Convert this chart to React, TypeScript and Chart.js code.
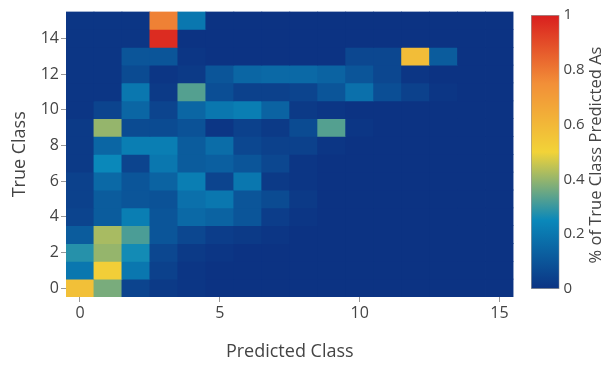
import React, { useEffect, useRef } from 'react';
import { Chart, registerables } from 'chart.js';

Chart.register(...registerables);

// ---- data ----
const CLASSES = [0, 1, 2, 3, 4, 5, 6, 7, 8, 9, 10, 11, 12, 13, 14, 15];
const X_TICKS = [0, 5, 10, 15];
const Y_TICKS = [0, 2, 4, 6, 8, 10, 12, 14];
const CB_TICKS = [0, 0.2, 0.4, 0.6, 0.8, 1];

// share of true class (row) predicted as class (column)
const ROW_0 = [0.57, 0.37, 0.05, 0.02, 0.01, 0, 0, 0, 0, 0, 0, 0, 0, 0, 0, 0];
const ROW_1 = [0.2, 0.52, 0.2, 0.04, 0.01, 0, 0, 0, 0, 0, 0, 0, 0, 0, 0, 0];
const ROW_2 = [0.28, 0.4, 0.26, 0.06, 0.02, 0.01, 0, 0, 0, 0, 0, 0, 0, 0, 0, 0];
const ROW_3 = [0.12, 0.42, 0.32, 0.1, 0.06, 0.03, 0.02, 0.01, 0, 0, 0, 0, 0, 0, 0, 0];
const ROW_4 = [0.05, 0.12, 0.22, 0.1, 0.16, 0.14, 0.1, 0.03, 0.01, 0, 0, 0, 0, 0, 0, 0];
const ROW_5 = [0.04, 0.12, 0.1, 0.09, 0.18, 0.2, 0.1, 0.07, 0.02, 0, 0, 0, 0, 0, 0, 0];
const ROW_6 = [0.04, 0.16, 0.1, 0.14, 0.22, 0.05, 0.2, 0.02, 0.01, 0, 0, 0, 0, 0, 0, 0];
const ROW_7 = [0.02, 0.25, 0.05, 0.2, 0.12, 0.13, 0.1, 0.06, 0.01, 0, 0, 0, 0, 0, 0, 0];
const ROW_8 = [0.02, 0.15, 0.22, 0.22, 0.12, 0.17, 0.06, 0.04, 0.04, 0.01, 0, 0, 0, 0, 0, 0];
const ROW_9 = [0.02, 0.4, 0.07, 0.07, 0.09, 0.01, 0.04, 0.02, 0.07, 0.33, 0.01, 0, 0, 0, 0, 0];
const ROW_10 = [0.01, 0.05, 0.15, 0.05, 0.15, 0.2, 0.22, 0.14, 0.02, 0.01, 0, 0, 0, 0, 0, 0];
const ROW_11 = [0.01, 0.01, 0.2, 0.02, 0.33, 0.08, 0.04, 0.04, 0.05, 0.1, 0.18, 0.08, 0.04, 0.01, 0, 0];
const ROW_12 = [0.01, 0.01, 0.07, 0.01, 0.02, 0.1, 0.15, 0.16, 0.16, 0.14, 0.1, 0.06, 0.01, 0, 0, 0];
const ROW_13 = [0.01, 0.01, 0.1, 0.1, 0.01, 0, 0, 0, 0, 0, 0.06, 0.06, 0.58, 0.12, 0, 0];
const ROW_14 = [0.01, 0.01, 0.01, 0.97, 0, 0, 0, 0, 0, 0, 0, 0, 0, 0, 0, 0];
const ROW_15 = [0.01, 0.01, 0.01, 0.78, 0.2, 0, 0, 0, 0, 0, 0, 0, 0, 0, 0, 0];

const ROWS = [
  ROW_0, ROW_1, ROW_2, ROW_3, ROW_4, ROW_5, ROW_6, ROW_7,
  ROW_8, ROW_9, ROW_10, ROW_11, ROW_12, ROW_13, ROW_14, ROW_15,
];

// Portland colour scale
const PORTLAND: [number, [number, number, number]][] = [
  [0, [12, 51, 131]],
  [0.25, [10, 136, 186]],
  [0.5, [242, 211, 56]],
  [0.75, [242, 143, 56]],
  [1, [217, 30, 30]],
];

const rgb = (c: number[]) => `rgb(${Math.round(c[0])},${Math.round(c[1])},${Math.round(c[2])})`;

function colorFor(v: number): string {
  const t = Math.max(0, Math.min(1, v));
  for (let i = 1; i < PORTLAND.length; i++) {
    const [s1, c1] = PORTLAND[i];
    const [s0, c0] = PORTLAND[i - 1];
    if (t <= s1) {
      const f = (t - s0) / (s1 - s0);
      return rgb([0, 1, 2].map((k) => c0[k] + (c1[k] - c0[k]) * f));
    }
  }
  return rgb(PORTLAND[PORTLAND.length - 1][1]);
}

const FONT = "'Open Sans', sans-serif";
const TEXT = '#444';

export default function App() {
  const mainRef = useRef<HTMLCanvasElement>(null);
  const barRef = useRef<HTMLCanvasElement>(null);

  useEffect(() => {
    const points: { x: number; y: [number, number]; v: number }[] = [];
    ROWS.forEach((row, r) =>
      row.forEach((v, c) => points.push({ x: CLASSES[c], y: [CLASSES[r] - 0.5, CLASSES[r] + 0.5], v }))
    );

    const main = new Chart(mainRef.current!, {
      type: 'bar',
      data: {
        datasets: [
          {
            data: points as any,
            backgroundColor: points.map((p) => colorFor(p.v)),
            borderWidth: 0,
            barPercentage: 1,
            categoryPercentage: 1,
            inflateAmount: 0.4,
          } as any,
        ],
      },
      options: {
        animation: false,
        responsive: false,
        events: [],
        layout: { padding: { top: 7, right: 6.5, left: 0, bottom: 0 } },
        plugins: { legend: { display: false }, tooltip: { enabled: false } },
        scales: {
          x: {
            type: 'linear',
            min: -0.5,
            max: 15.5,
            offset: false,
            afterBuildTicks: (s: any) => {
              s.ticks = X_TICKS.map((value) => ({ value }));
            },
            afterFit: (s: any) => {
              s.height = 73;
            },
            grid: { offset: false, drawOnChartArea: false, tickLength: 5, color: '#999' },
            border: { display: false },
            ticks: { font: { family: FONT, size: 16 }, color: TEXT, padding: 2, maxRotation: 0 },
            title: {
              display: true,
              text: 'Predicted Class',
              font: { family: FONT, size: 18 },
              color: TEXT,
              padding: { top: 0, bottom: 7 },
            },
          },
          y: {
            type: 'linear',
            min: -0.5,
            max: 15.5,
            offset: false,
            afterBuildTicks: (s: any) => {
              s.ticks = Y_TICKS.map((value) => ({ value }));
            },
            afterFit: (s: any) => {
              s.width = 66;
            },
            grid: { offset: false, drawOnChartArea: false, tickLength: 5, color: '#999' },
            border: { display: false },
            ticks: { font: { family: FONT, size: 16 }, color: TEXT, padding: 2 },
            title: {
              display: true,
              text: 'True Class',
              font: { family: FONT, size: 18 },
              color: TEXT,
              padding: { top: 9, bottom: 0 },
            },
          },
        },
      },
    });

    const cbTitle = {
      id: 'cbTitle',
      afterDraw(chart: any) {
        const { ctx } = chart;
        const yScale = chart.scales.y;
        ctx.save();
        ctx.translate(76, (yScale.top + yScale.bottom) / 2 + 3);
        ctx.rotate(-Math.PI / 2);
        ctx.font = `16.5px ${FONT}`;
        ctx.fillStyle = TEXT;
        ctx.textAlign = 'center';
        ctx.textBaseline = 'middle';
        ctx.fillText('% of True Class Predicted As', 0, 0);
        ctx.restore();
      },
    };

    const bar = new Chart(barRef.current!, {
      type: 'bar',
      data: {
        labels: ['scale'],
        datasets: [
          {
            data: [[CB_TICKS[0], CB_TICKS[CB_TICKS.length - 1]]] as any,
            backgroundColor: (ctx: any) => {
              const chart = ctx.chart;
              const area = chart.chartArea;
              const fallback = rgb(PORTLAND[0][1]);
              if (!area) return fallback;
              const y0 = area.bottom;
              const y1 = area.top;
              if (!Number.isFinite(y0) || !Number.isFinite(y1) || y0 === y1) return fallback;
              const g = chart.ctx.createLinearGradient(0, y0, 0, y1);
              PORTLAND.forEach(([s, c]) => g.addColorStop(s, rgb(c)));
              return g;
            },
            borderColor: '#999',
            borderWidth: 1,
            borderSkipped: false,
            barPercentage: 1,
            categoryPercentage: 1,
          } as any,
        ],
      },
      options: {
        animation: false,
        responsive: false,
        events: [],
        layout: { padding: { top: 15, right: 0, left: 11, bottom: 81 } },
        plugins: { legend: { display: false }, tooltip: { enabled: false } },
        scales: {
          x: { display: false },
          y: {
            position: 'right',
            min: 0,
            max: 1,
            afterBuildTicks: (s: any) => {
              s.ticks = CB_TICKS.map((value) => ({ value }));
            },
            afterFit: (s: any) => {
              s.width = 50.5;
            },
            grid: { display: false, drawTicks: false },
            border: { display: false },
            ticks: {
              font: { family: FONT, size: 15 },
              color: TEXT,
              padding: 4,
              callback: (v: any) => String(v),
            },
          },
        },
      },
      plugins: [cbTitle],
    });

    return () => {
      main.destroy();
      bar.destroy();
    };
  }, []);

  return (
    <div style={{ position: 'absolute', left: 0, top: 0, width: 610, height: 370, background: '#fff' }}>
      <canvas ref={mainRef} width={520} height={370} style={{ position: 'absolute', left: 0, top: 0 }} />
      <canvas ref={barRef} width={90} height={370} style={{ position: 'absolute', left: 520, top: 0 }} />
    </div>
  );
}
